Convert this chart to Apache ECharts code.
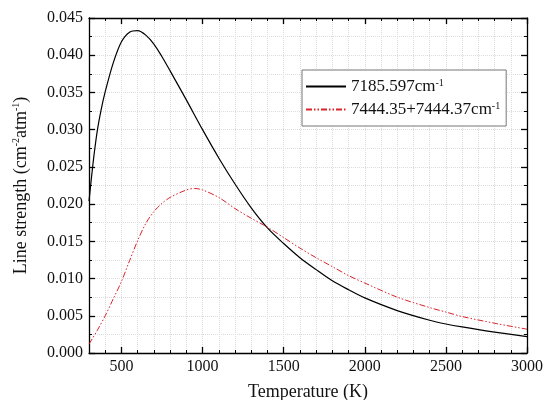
<!DOCTYPE html>
<html>
<head>
<meta charset="utf-8">
<script src="https://cdn.jsdelivr.net/npm/echarts@6/dist/echarts.min.js"></script>
<style>html,body{margin:0;padding:0;background:#fff}#c{width:546px;height:400px}</style>
</head>
<body>
<div id="c"></div>
<script>
// Data
const temps1 = [300, 325, 350, 375, 400, 450, 500, 550, 600, 650, 700, 750, 800, 900, 1000, 1100, 1200, 1300, 1400, 1500, 1600, 1700, 1800, 1900, 2000, 2200, 2400, 2500, 2600, 2800, 3000];
const line1 = [0.0204, 0.0255, 0.0297, 0.0327, 0.0351, 0.0390, 0.0418, 0.0431, 0.0433, 0.0427, 0.0415, 0.0398, 0.0379, 0.0340, 0.0300, 0.0262, 0.0227, 0.0195, 0.0168, 0.0147, 0.0128, 0.0112, 0.0097, 0.0085, 0.0074, 0.0057, 0.0044, 0.0039, 0.0035, 0.0028, 0.0022];
const temps2 = [300, 350, 400, 450, 500, 550, 600, 650, 700, 750, 800, 900, 950, 1000, 1100, 1200, 1300, 1400, 1500, 1600, 1700, 1800, 1900, 2000, 2200, 2400, 2500, 2600, 2800, 3000];
const line2 = [0.0012, 0.0030, 0.0050, 0.0073, 0.0096, 0.0124, 0.0151, 0.0174, 0.0190, 0.0201, 0.0209, 0.0219, 0.0221, 0.0219, 0.0209, 0.0194, 0.0181, 0.0169, 0.0155, 0.0141, 0.0128, 0.0116, 0.0104, 0.0094, 0.0075, 0.0061, 0.0055, 0.0049, 0.0040, 0.0032];
const seriesNames = ['7185.597cm', '7444.35+7444.37cm'];
const xMajorTicks = [500, 1000, 1500, 2000, 2500, 3000];
const xTitle = 'Temperature (K)';

const FONT = '"Liberation Serif", "Times New Roman", serif';
const grid = {left: 89, right: 19, top: 18, bottom: 47, outerBoundsMode: 'none'};
const axisLineStyle = {color: '#000', width: 1.3};
const gridLine = {show: true, lineStyle: {color: '#dcdcdc', type: 'dotted', width: 1}};

function xMinor(pos, split) {
  return {type: 'value', position: pos, min: 300, max: 3000, interval: 100,
    axisLine: {show: true, lineStyle: axisLineStyle, onZero: false},
    axisTick: {show: true, inside: true, length: 3, lineStyle: {color: '#000', width: 1}},
    axisLabel: {show: false}, splitLine: split ? gridLine : {show: false}};
}
function xMajor(pos, labels) {
  const a = {type: 'value', position: pos, min: 300, max: 3000,
    axisLine: {show: false, onZero: false},
    axisTick: {show: true, inside: true, length: 6, customValues: xMajorTicks, lineStyle: {color: '#000', width: 1.3}},
    axisLabel: {show: labels, customValues: xMajorTicks, formatter: v => String(v), fontFamily: FONT, fontSize: 16, color: '#111', margin: 6},
    splitLine: {show: false}};
  if (labels) {
    a.name = xTitle; a.nameLocation = 'middle'; a.nameGap = 30;
    a.nameTextStyle = {fontFamily: FONT, fontSize: 18, color: '#111'};
  }
  return a;
}
function yAxis(pos, main) {
  const a = {type: 'value', position: pos, min: 0, max: 0.045, interval: 0.005,
    axisLine: {show: true, lineStyle: axisLineStyle, onZero: false},
    axisTick: {show: true, inside: true, length: 6, lineStyle: {color: '#000', width: 1.3}},
    minorTick: {show: true, splitNumber: 2, length: 3, lineStyle: {color: '#000', width: 1}},
    axisLabel: {show: main, formatter: v => v.toFixed(3), fontFamily: FONT, fontSize: 16, color: '#111', margin: 6},
    splitLine: main ? gridLine : {show: false},
    minorSplitLine: main ? gridLine : {show: false}};
  if (main) {
    a.name = '{n|Line strength (cm}{s|-2}{n|atm}{s|-1}{n|)}';
    a.nameLocation = 'middle'; a.nameGap = 58; a.nameRotate = 90;
    a.nameTextStyle = {rich: {
      n: {fontFamily: FONT, fontSize: 18, color: '#111', lineHeight: 20},
      s: {fontFamily: FONT, fontSize: 10, color: '#111', verticalAlign: 'top', lineHeight: 20}
    }};
  }
  return a;
}

const chart = echarts.init(document.getElementById('c'), null, {renderer: 'canvas'});
chart.setOption({
  animation: false,
  backgroundColor: '#fff',
  grid: grid,
  xAxis: [xMinor('bottom', true), xMajor('bottom', true), xMinor('top', false), xMajor('top', false)],
  yAxis: [yAxis('left', true), yAxis('right', false)],
  legend: {
    orient: 'vertical', left: 302, top: 70,
    padding: [8, 6, 8, 3], itemGap: 6, itemWidth: 40, itemHeight: 14,
    borderColor: '#777', borderWidth: 1, backgroundColor: '#fff',
    itemStyle: {opacity: 0},
    data: seriesNames,
    formatter: n => '{n|' + n + '}{s|-1}',
    textStyle: {rich: {
      n: {fontFamily: FONT, fontSize: 17, color: '#111', lineHeight: 17},
      s: {fontFamily: FONT, fontSize: 10, color: '#111', verticalAlign: 'top', lineHeight: 17}
    }}
  },
  series: [
    {name: seriesNames[0], type: 'line', xAxisIndex: 0, yAxisIndex: 0, showSymbol: false, symbol: 'none', smooth: 0.3,
      data: temps1.map((t, i) => [t, line1[i]]),
      lineStyle: {color: '#000', width: 1.2}, itemStyle: {color: '#000'}},
    {name: seriesNames[1], type: 'line', xAxisIndex: 0, yAxisIndex: 0, showSymbol: false, symbol: 'none', smooth: 0.3,
      data: temps2.map((t, i) => [t, line2[i]]),
      lineStyle: {color: '#d8232a', width: 1, type: [6, 2, 1.5, 2, 1.5, 2]}, itemStyle: {color: '#d8232a'}}
  ]
});
</script>
</body>
</html>
